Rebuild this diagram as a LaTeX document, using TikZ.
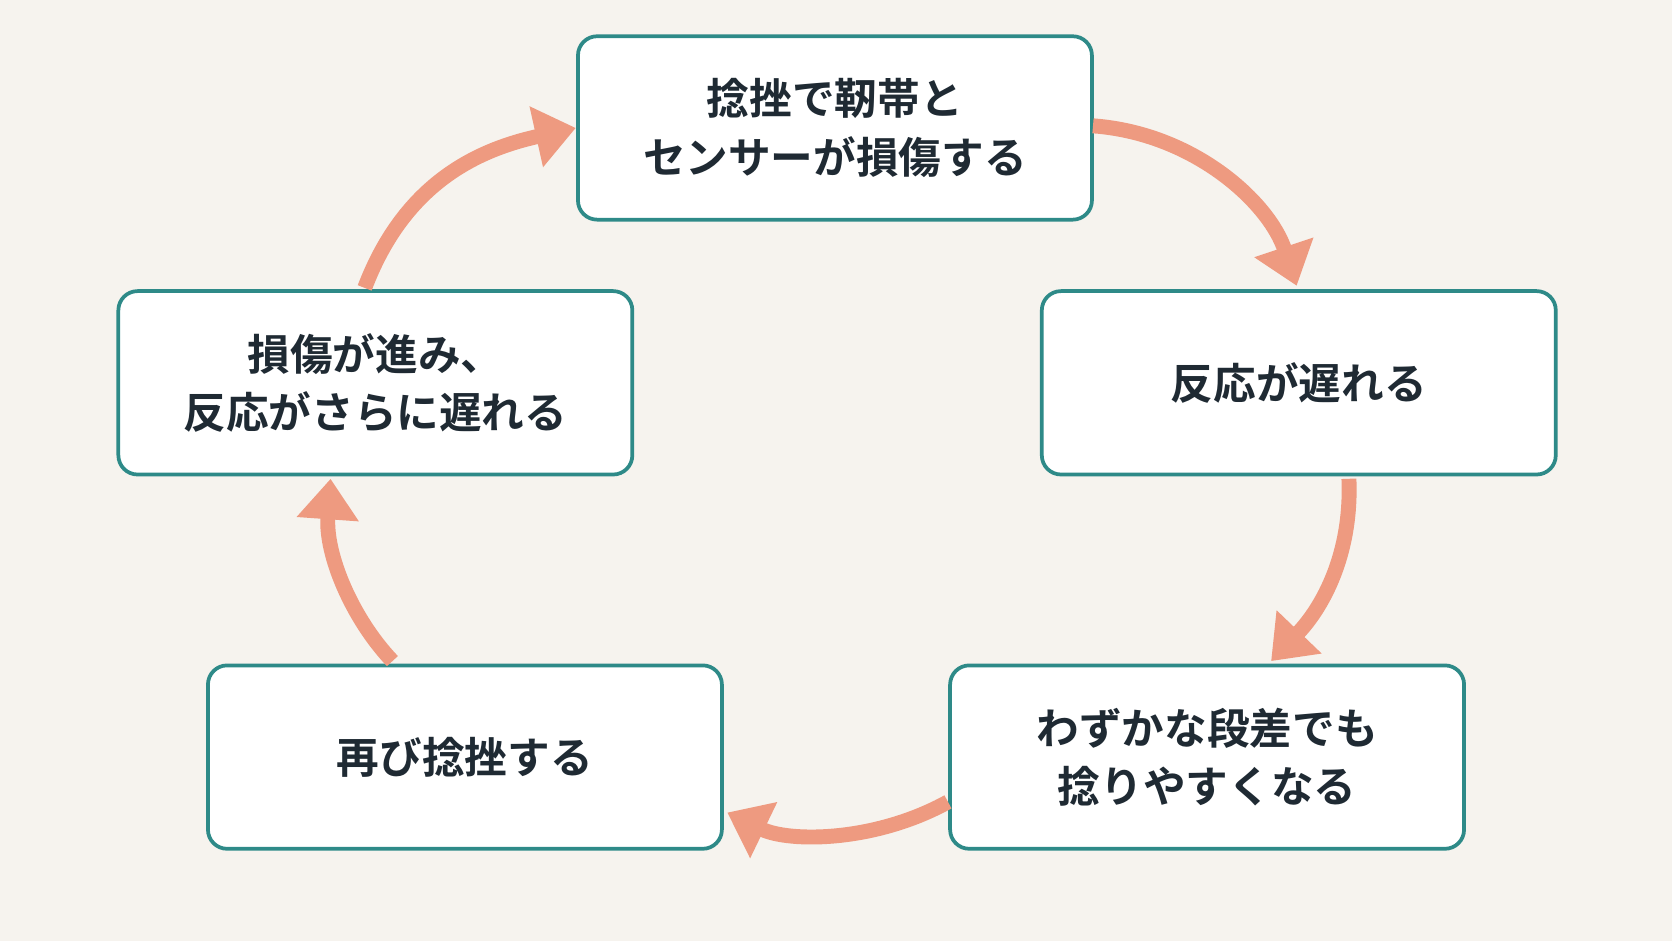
\documentclass[tikz,border=0pt]{standalone}
\usepackage{fontspec}
\newfontfamily\jp{Noto Sans CJK JP}[BoldFont={Noto Sans CJK JP Bold}]
\usetikzlibrary{arrows.meta}
\definecolor{bg}{HTML}{F6F3EE}
\definecolor{teal}{HTML}{2E8A88}
\definecolor{sal}{HTML}{EE9A80}
\definecolor{txt}{HTML}{1F2A33}
\begin{document}
\begin{tikzpicture}[x=1pt,y=-1pt,
 box/.style={draw=teal,line width=3.5pt,fill=white,rounded corners=18pt,minimum width=482pt,minimum height=172pt,align=center,font=\jp\bfseries\fontsize{40}{55}\selectfont,text=txt},
 arr/.style={draw=sal,line width=14pt,-{Triangle[length=38pt,width=56pt]}}]
\fill[bg] (0,0) rectangle (1568,882);
\useasboundingbox (0,0) rectangle (1568,882);
\node[box] (A) at (783,120) {捻挫で靭帯と\\センサーが損傷する};
\node[box] (B) at (1218,359) {反応が遅れる};
\node[box] (C) at (1132,710) {わずかな段差でも\\捻りやすくなる};
\node[box] (D) at (436,710) {再び捻挫する};
\node[box] (E) at (352,359) {損傷が進み、\\反応がさらに遅れる};
\coordinate (a1) at (1025,118); \coordinate (b0) at (1216,268);
\coordinate (b1) at (1265,449); \coordinate (c0) at (1192,620);
\coordinate (c1) at (889,752); \coordinate (d0) at (682,762);
\coordinate (d1) at (368,620); \coordinate (e0) at (310,449);
\coordinate (e1) at (342,270); \coordinate (a0) at (540,120);
\draw[arr] (a1) .. controls (1120,125) and (1190,190) .. (b0);
\draw[arr] (b1) .. controls (1268,520) and (1240,570) .. (c0);
\draw[arr] (c1) .. controls (820,790) and (740,790) .. (d0);
\draw[arr] (d1) .. controls (330,580) and (305,520) .. (e0);
\draw[arr] (e1) .. controls (380,170) and (450,140) .. (a0);
\end{tikzpicture}
\end{document}
